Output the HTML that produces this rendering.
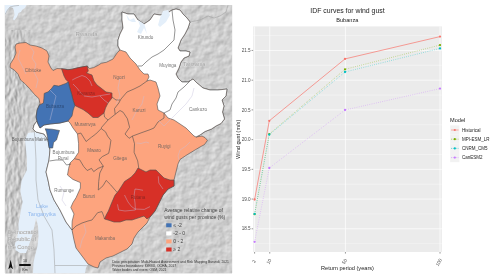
<!DOCTYPE html>
<html lang="en"><head><meta charset="utf-8"><title>IDF curves for wind gust - Bubanza</title>
<style>html,body{margin:0;padding:0;background:#fff;overflow:hidden}svg{display:block}</style></head>
<body>
<svg width="500" height="279" viewBox="0 0 500 279" style="display:block">
<defs><clipPath id="mc"><rect x="4.9" y="4.9" width="227.2" height="268.4"/></clipPath>
<filter id="hs" x="0" y="0" width="100%" height="100%" color-interpolation-filters="sRGB"><feTurbulence type="fractalNoise" baseFrequency="0.14" numOctaves="3" seed="7" result="n"/><feDiffuseLighting in="n" surfaceScale="0.45" diffuseConstant="1" lighting-color="#fff" result="l"><feDistantLight azimuth="225" elevation="45"/></feDiffuseLighting><feColorMatrix in="l" type="matrix" values="0.9 0 0 0 0.17  0.9 0 0 0 0.17  0.9 0 0 0 0.17  0 0 0 1 0"/></filter>
<filter id="hs2" x="0" y="0" width="100%" height="100%" color-interpolation-filters="sRGB"><feTurbulence type="fractalNoise" baseFrequency="0.3 0.13" numOctaves="3" seed="3" result="n"/><feDiffuseLighting in="n" surfaceScale="0.6" diffuseConstant="1" lighting-color="#fff" result="l"><feDistantLight azimuth="200" elevation="45"/></feDiffuseLighting><feColorMatrix in="l" type="matrix" values="0.9 0 0 0 0.145  0.9 0 0 0 0.145  0.9 0 0 0 0.145  0 0 0 1 0"/></filter>
<linearGradient id="wg" x1="0" x2="1" y1="0" y2="0"><stop offset="0" stop-color="#fff"/><stop offset="0.55" stop-color="#fff"/><stop offset="1" stop-color="#000"/></linearGradient><mask id="wm"><rect x="5" y="30" width="30" height="244" fill="url(#wg)"/></mask>
</defs>
<rect width="500" height="279" fill="#fff"/>
<g clip-path="url(#mc)">
<rect x="4" y="4" width="229" height="270" fill="#c9c9c9"/>
<rect x="4" y="4" width="229" height="270" fill="#c9c9c9" filter="url(#hs)"/>
<g mask="url(#wm)"><rect x="4" y="4" width="229" height="270" fill="#c4c4c4" filter="url(#hs2)"/></g>
<polygon points="28,133 36,132 44,134 48,140 50,150 49,160 47.5,170 48.4,181 51.6,191.5 56.3,202 62.4,213 68.8,224 72,230 74,240 76,248 82,256 88,264 86,268 85,273.5 33,273.5 33.5,262 35,256 37.5,246 38.5,236 38,226 36,218 34.5,226 32.5,234 30,242 27.5,249 26,253 20,253 15.5,250 15,244 17,238 18.5,230 18.5,224 20.4,213 22.6,202 20.4,191.5 21.5,181 26.9,170 27,160 26,150 25,140" fill="#e4effa"/>
<polygon points="4,4 27,4 25,8 22,10 21,12 18.5,13 17,17 14,20.5 13,19 14.5,15 14,11 13,8 10.5,7 8,10 5.5,14.5 4,14.5" fill="#e4effa"/>
<polyline points="34,128 35,140 36,160 36,180 38,200 44,216 52,230 54,250 55,273.5" fill="none" stroke="#9a9a9a" stroke-width="0.5"/>
<polyline points="55,265.5 80,265.5 100,266" fill="none" stroke="#9a9a9a" stroke-width="0.5"/>
<polyline points="190,22 200,20 208,16 214,18 220,16 226,12 228,5" fill="none" stroke="#9a9a9a" stroke-width="0.5"/>
<polyline points="5,14.5 7.5,10 10,7 14,6 19,5.4" fill="none" stroke="#9a9a9a" stroke-width="0.5"/>
<polygon points="16,44 20,43 26,42.5 30,45 36,46 42,48 47,51 49,56 48,62 51,68 53,70.5 57,68.5 61.5,68.7 68,69.7 72,69.2 78.7,67.6 87.3,66 89.4,68.5 93.7,67.6 98,65.4 101.2,63.3 106.6,62.2 113,59 117.4,52.5 120,50 118,46 118,40 120,34 123,28 122,20 122,12 128,14 134,14 138,20 144,24 150,20 154,14 160,15 166,14 172,10 176,9 180,10 183,14 187,18 190,22 188,28 185,34 181,40 178,48 180,51 186,51 190,52 189,56 184,58 181,62 179,68 176,74 178,78 182,82 188,82 193,79 197,83 203,88 210,90 218,90 227,89 226,96 222,100 224,106 222.5,112 224.5,119 221,123.5 216,126 211.5,129 205,131.5 200,135 196,137 202,136 205,137.6 207.4,140.4 204.5,144.6 200,147 195,150 190,153 186,155.5 180,159.5 178,164 177,168 175.5,174 174,180 174,186 168,189 163,195 159,203 155,211 150,217 147,223 142,228 138,232 134,238 132,244 127,249 121,252 113,256 106,258 100,262 98,268 94,267 88,264 82,256 76,248 74,240 72,230 66,222 60,210 54,200 50,190 48,180 46,172 49,160 50,150 48,140 44,134 36,132 33,129 34,125 37,121 36.1,117 37.1,110 39.4,105 40,103.5 38.8,98.5 34.5,94.5 29,88 24.7,83.5 20.5,80 17.8,73.7 13.9,69.8 10,67.5 10.3,64 14,58 16,53 15,47" fill="#fda47e" stroke="#4d4d4d" stroke-width="0.6" stroke-linejoin="round"/>
<polygon points="120,50 118,46 118,40 120,34 123,28 122,20 122,12 128,14 134,14 138,20 144,24 150,20 154,14 160,15 166,14 172,10 176,9 180,10 183,14 187,18 190,22 188,28 185,34 181,40 178,48 180,51 186,51 190,52 189,56 184,58 181,62 179,68 176,74 178,78 182,82 188,82 193,79 197,83 203,88 210,90 218,90 227,89 226,96 222,100 224,106 222.5,112 224.5,119 221,123.5 216,126 211.5,129 205,131.5 200,135 196,137 194,136 190,132 186,128 180,124 174,120 168,118 164,113 158,110 157,104 160,96 158,88 156,82 150,80 147,81 149,77 148,74 144,74 140,70 136,64 130,58 126,52" fill="#fff" stroke="#4d4d4d" stroke-width="0.6" stroke-linejoin="round"/>
<polygon points="40,128 44,125 50,124 60,123 68,121 70,123 73,128 77.5,134 78.6,143.7 78.6,152.3 74.3,158.7 70,163 68.6,168.6 67.5,175 72.9,179.4 80.4,182.6 80.4,188 76.1,197.6 73,202.5 70.8,207.5 74,214 72.2,221 72,225 72,230 66,222 60,210 54,200 50,190 48,180 46,172 49,160 50,150 48,140 44,134 36,132 33,129 34,125 37,121 38,124" fill="#fff" stroke="#4d4d4d" stroke-width="0.6" stroke-linejoin="round"/>
<polygon points="61.5,68.7 68,69.7 72,69.2 78.7,67.6 87.3,66 88.3,71 86.5,73 92,75 94,81 97,85 101,88 106,92 112,93 112,98 108,103 105.5,108 104,113 98,117.5 93,117.5 88,113 83,109.5 74.8,105.5 73,100 71.6,94.2 69.2,86.1 68.4,82.1 65.8,79.4 64,76" fill="#d73027" stroke="#4d4d4d" stroke-width="0.6" stroke-linejoin="round"/>
<polygon points="138,168 142,170 146,172 150,170 156,170 160,174 164,178 170,180 174,180 174,186 168,189 163,195 159,203 155,211 150,217 147,219 144,216 138,218 132,220 126,220 120,222 114,222 108,220 104.5,219 106.2,215 108.4,211 111.6,203 114.8,195.5 119.1,190.1 124.5,181.5 131,177.2 135,173" fill="#d73027" stroke="#4d4d4d" stroke-width="0.6" stroke-linejoin="round"/>
<polygon points="68.4,82.1 69.2,86.1 71.6,94.2 73,100 74.8,105.5 73.2,110 72,116 68,121 60,123 50,124 44,125 40,128 38,124 37,121 36.1,117 37.1,110 39.4,105 43.4,103 43.9,98.2 44.2,93.4 48.2,91.8 51.5,88.5 53.9,85.3 58.7,86.1 65.2,83.7" fill="#4373b4" stroke="#4d4d4d" stroke-width="0.6" stroke-linejoin="round"/>
<polygon points="45.2,128.8 52,129.2 59.5,130.5 58,135 56.5,140 53.5,142.5 52.7,148 49,148 48.2,142 47.5,137 46.5,132" fill="#4373b4" stroke="#4d4d4d" stroke-width="0.6" stroke-linejoin="round"/>
<polygon points="138,20 140,26 137,32 141,34 144,28 147,34 145,26 144,24" fill="#e4effa"/>
<polygon points="163,11 168,10 170,15 166,22 160,27 158,25 160,18" fill="#e4effa"/>
<polygon points="126,14 130,20 134,18 136,22 132,22 128,20" fill="#e4effa"/>
<polyline points="49.5,161 56,160 62.7,160 66.5,165 71,164" fill="none" stroke="#4d4d4d" stroke-width="0.6" stroke-linejoin="round"/>
<polyline points="172,10 173,20 175,30 174,40 169,45 164,50 158,54 152,57 146,62 142,66 138,66" fill="none" stroke="#4d4d4d" stroke-width="0.6" stroke-linejoin="round"/>
<polyline points="190,81 184,87 178,92 176,98 172,104 170,110 164,113" fill="none" stroke="#4d4d4d" stroke-width="0.6" stroke-linejoin="round"/>
<polyline points="147,81 140,86 134,89 127,92 121,99 118.8,103 114.5,108.6 115.2,114.3 120,110.5 123.1,112.2 127.4,118.7 129.6,127.3 125,134 129.1,138.3 132.4,136.1" fill="none" stroke="#4d4d4d" stroke-width="0.6" stroke-linejoin="round"/>
<polyline points="112,97 116,100 120,100" fill="none" stroke="#4d4d4d" stroke-width="0.6" stroke-linejoin="round"/>
<polyline points="104,113 104.5,117 108,120 101.6,127.3 101.2,128.6 105.5,131.8 107.6,136.1 110.9,140.4 109.8,148 108.7,153.3 102.3,156.6 99,159.8 103.3,166.2 99.8,173 98.7,181.5 98.3,190 103,185.8 106.2,180.4 110.5,184.7 117,192.3" fill="none" stroke="#4d4d4d" stroke-width="0.6" stroke-linejoin="round"/>
<polyline points="108,120 115.2,114.3" fill="none" stroke="#4d4d4d" stroke-width="0.6" stroke-linejoin="round"/>
<polyline points="77.5,134 80.8,133 86.1,141.5 91.5,137.2 95.8,134 101.2,128.6" fill="none" stroke="#4d4d4d" stroke-width="0.6" stroke-linejoin="round"/>
<polyline points="74.3,158.7 79.7,159.8 83.7,166.5 87.2,170.5 91.5,168.4 93.7,171.6 98,168.4 103.3,166.2" fill="none" stroke="#4d4d4d" stroke-width="0.6" stroke-linejoin="round"/>
<polyline points="132.4,136.1 141,132.9 150,129.7 154,128 158,122 164,118 164,113" fill="none" stroke="#4d4d4d" stroke-width="0.6" stroke-linejoin="round"/>
<polyline points="132.4,136.1 134.5,143.7 134.1,152.3 137.7,160.9 138.8,168.4" fill="none" stroke="#4d4d4d" stroke-width="0.6" stroke-linejoin="round"/>
<polyline points="72,230 76,226 82,223 88,221 92,220 97.6,212.7 102,211.6 104,217 104.5,219" fill="none" stroke="#4d4d4d" stroke-width="0.6" stroke-linejoin="round"/>
<polyline points="30,46 34,52 32,58 36,64 34,72 38,80 36,88" fill="none" stroke="#c3c0dc" stroke-width="0.5" stroke-linejoin="round" opacity="0.85"/>
<polyline points="20,50 18,58 22,66 26,74" fill="none" stroke="#c3c0dc" stroke-width="0.5" stroke-linejoin="round" opacity="0.85"/>
<polyline points="72.2,80 76,78 82,75.5 86,77 90,81 92,86" fill="none" stroke="#c3c0dc" stroke-width="0.5" stroke-linejoin="round" opacity="0.85"/>
<polyline points="73,84 77,88 80,92 84,96 92,97 98,96 104,95 110,94" fill="none" stroke="#c3c0dc" stroke-width="0.5" stroke-linejoin="round" opacity="0.85"/>
<polyline points="100,96 104,100 108,103" fill="none" stroke="#c3c0dc" stroke-width="0.5" stroke-linejoin="round" opacity="0.85"/>
<polyline points="50,90 56,96 54,104 52,112 50,120" fill="none" stroke="#c3c0dc" stroke-width="0.5" stroke-linejoin="round" opacity="0.85"/>
<polyline points="120,78 118,88 120,96 116,104" fill="none" stroke="#c3c0dc" stroke-width="0.5" stroke-linejoin="round" opacity="0.85"/>
<polyline points="144,96 142,104 136,112 132,120" fill="none" stroke="#c3c0dc" stroke-width="0.5" stroke-linejoin="round" opacity="0.85"/>
<polyline points="194,88 192,96 186,104 178,112 172,118 164,126 158,120" fill="none" stroke="#c3c0dc" stroke-width="0.5" stroke-linejoin="round" opacity="0.85"/>
<polyline points="135,189 134,196 135,203 135.4,210" fill="none" stroke="#c3c0dc" stroke-width="0.5" stroke-linejoin="round" opacity="0.85"/>
<polyline points="135,189 139,189.5 143,190.3" fill="none" stroke="#c3c0dc" stroke-width="0.5" stroke-linejoin="round" opacity="0.85"/>
<polyline points="124.5,195 128,202 131.5,206.5 135,209 144.3,209.4 150,206.6" fill="none" stroke="#c3c0dc" stroke-width="0.5" stroke-linejoin="round" opacity="0.85"/>
<polyline points="117.5,204.3 118.6,210 125,211 135.4,210" fill="none" stroke="#c3c0dc" stroke-width="0.5" stroke-linejoin="round" opacity="0.85"/>
<polyline points="158.3,176.3 158.8,183 163,189" fill="none" stroke="#c3c0dc" stroke-width="0.5" stroke-linejoin="round" opacity="0.85"/>
<polyline points="84,224 86,232 82,240 80,248" fill="none" stroke="#c3c0dc" stroke-width="0.5" stroke-linejoin="round" opacity="0.85"/>
<polyline points="60,186 64,192 62,200 66,206" fill="none" stroke="#c3c0dc" stroke-width="0.5" stroke-linejoin="round" opacity="0.85"/>
<polyline points="136.5,143 141,143.5 146,142 149,143" fill="none" stroke="#c3c0dc" stroke-width="0.5" stroke-linejoin="round" opacity="0.85"/>
<polyline points="190,142 186,146 180,150 178,156 179,160" fill="none" stroke="#c3c0dc" stroke-width="0.5" stroke-linejoin="round" opacity="0.85"/>
<g font-family="'Liberation Sans', 'DejaVu Sans', sans-serif" font-size="4.55" text-anchor="middle">
<text x="33" y="71.5" fill="#7a6a62">Cibitoke</text>
<text x="55" y="107.5" fill="#2c4a78">Bubanza</text>
<text x="86" y="94.5" fill="#8e2522">Kayanza</text>
<text x="119" y="78.5" fill="#7a6a62">Ngozi</text>
<text x="145.5" y="38.5" fill="#777">Kirundo</text>
<text x="167.8" y="66.6" fill="#777">Muyinga</text>
<text x="198" y="110.5" fill="#777">Cankuzo</text>
<text x="139" y="111.5" fill="#7a6a62">Karuzi</text>
<text x="85" y="125.5" fill="#7a6a62">Muramvya</text>
<text x="94" y="152" fill="#7a6a62">Mwaro</text>
<text x="120" y="159.5" fill="#7a6a62">Gitega</text>
<text x="164.2" y="148" fill="#7a6a62">Ruyigi</text>
<text x="138" y="198.5" fill="#8e2522">Rutana</text>
<text x="89" y="197.5" fill="#7a6a62">Bururi</text>
<text x="105" y="239.5" fill="#7a6a62">Makamba</text>
<text x="64" y="191.5" fill="#777">Rumonge</text>
<text x="63.6" y="153.6" fill="#777">Bujumbura</text>
<text x="63.2" y="159.8" fill="#777">Rural</text>
<text x="29.5" y="140.8" fill="#666">Bujumbura Mairie</text>
</g>
<g font-family="'Liberation Sans', sans-serif" font-size="5.6" fill="#a2a2a2" stroke="#e8e8e8" stroke-width="0.35" paint-order="stroke" stroke-linejoin="round">
<text x="86.6" y="35.7" text-anchor="middle" font-size="6">Rwanda</text>
<text x="194.2" y="66.4" text-anchor="middle">Tanzania</text>
<text x="8" y="234.1">Democratic</text><text x="8" y="241.3">Republic of</text><text x="8" y="248.9">the Congo</text>
</g>
<g font-family="'Liberation Sans', sans-serif" font-size="5.5" fill="#8fb8ee" text-anchor="middle"><text x="42" y="208.4">Lake</text><text x="42" y="215.8">Tanganyika</text></g>
<polygon points="10.6,259.8 13,269.3 10.6,267.3 8.4,269.3" fill="#111"/>
<rect x="19.2" y="264" width="11.5" height="2" fill="#111"/>
<g font-family="'Liberation Sans', sans-serif" font-size="3.7" fill="#333" text-anchor="middle"><text x="25.1" y="262">10</text><text x="25" y="270.9">Km</text></g>
<g font-family="'Liberation Sans', 'DejaVu Sans', sans-serif" fill="#444">
<text x="164.3" y="212.4" font-size="4.95">Average relative change of</text>
<text x="164.3" y="218.6" font-size="4.95">wind gusts per province (%)</text>
<rect x="166.2" y="223.30" width="5.4" height="4" fill="#4373b4"/>
<text x="173.2" y="227.10" font-size="5.1">≤ -2</text>
<rect x="166.2" y="231.37" width="5.4" height="4" fill="#fff"/>
<text x="173.2" y="235.17" font-size="5.1">-2 - 0</text>
<rect x="166.2" y="239.44" width="5.4" height="4" fill="#fda47e"/>
<text x="173.2" y="243.24" font-size="5.1"> 0 - 2</text>
<rect x="166.2" y="247.51" width="5.4" height="4" fill="#d73027"/>
<text x="173.2" y="251.31" font-size="5.1">≥ 2</text>
<text x="112.2" y="262.8" font-size="3.36" fill="#333">Data: precipitation: Multi-Hazard Assessment and Risk Mapping Burundi, 2021</text>
<text x="112.2" y="266.8" font-size="3.36" fill="#333">Province boundaries: IGEBU, OCHA, 2017</text>
<text x="112.2" y="270.7" font-size="3.36" fill="#333">Water bodies and rivers: OSM, 2021</text>
</g>
</g>
<rect x="253.2" y="26.4" width="188.7" height="225.6" fill="#ebebeb"/>
<line x1="253.2" x2="441.9" y1="243.66" y2="243.66" stroke="#f9f9f9" stroke-width="0.5"/>
<line x1="253.2" x2="441.9" y1="213.94" y2="213.94" stroke="#f9f9f9" stroke-width="0.5"/>
<line x1="253.2" x2="441.9" y1="184.21" y2="184.21" stroke="#f9f9f9" stroke-width="0.5"/>
<line x1="253.2" x2="441.9" y1="154.49" y2="154.49" stroke="#f9f9f9" stroke-width="0.5"/>
<line x1="253.2" x2="441.9" y1="124.76" y2="124.76" stroke="#f9f9f9" stroke-width="0.5"/>
<line x1="253.2" x2="441.9" y1="95.04" y2="95.04" stroke="#f9f9f9" stroke-width="0.5"/>
<line x1="253.2" x2="441.9" y1="65.31" y2="65.31" stroke="#f9f9f9" stroke-width="0.5"/>
<line x1="253.2" x2="441.9" y1="35.59" y2="35.59" stroke="#f9f9f9" stroke-width="0.5"/>
<line x1="253.2" x2="441.9" y1="228.80" y2="228.80" stroke="#fff" stroke-width="0.7"/>
<line x1="251.6" x2="253.2" y1="228.80" y2="228.80" stroke="#333" stroke-width="0.5"/>
<text x="250.6" y="230.40" font-family="'Liberation Sans', sans-serif" font-size="4.6" fill="#4d4d4d" text-anchor="end">18.5</text>
<line x1="253.2" x2="441.9" y1="199.07" y2="199.07" stroke="#fff" stroke-width="0.7"/>
<line x1="251.6" x2="253.2" y1="199.07" y2="199.07" stroke="#333" stroke-width="0.5"/>
<text x="250.6" y="200.67" font-family="'Liberation Sans', sans-serif" font-size="4.6" fill="#4d4d4d" text-anchor="end">19.0</text>
<line x1="253.2" x2="441.9" y1="169.35" y2="169.35" stroke="#fff" stroke-width="0.7"/>
<line x1="251.6" x2="253.2" y1="169.35" y2="169.35" stroke="#333" stroke-width="0.5"/>
<text x="250.6" y="170.95" font-family="'Liberation Sans', sans-serif" font-size="4.6" fill="#4d4d4d" text-anchor="end">19.5</text>
<line x1="253.2" x2="441.9" y1="139.62" y2="139.62" stroke="#fff" stroke-width="0.7"/>
<line x1="251.6" x2="253.2" y1="139.62" y2="139.62" stroke="#333" stroke-width="0.5"/>
<text x="250.6" y="141.22" font-family="'Liberation Sans', sans-serif" font-size="4.6" fill="#4d4d4d" text-anchor="end">20.0</text>
<line x1="253.2" x2="441.9" y1="109.90" y2="109.90" stroke="#fff" stroke-width="0.7"/>
<line x1="251.6" x2="253.2" y1="109.90" y2="109.90" stroke="#333" stroke-width="0.5"/>
<text x="250.6" y="111.50" font-family="'Liberation Sans', sans-serif" font-size="4.6" fill="#4d4d4d" text-anchor="end">20.5</text>
<line x1="253.2" x2="441.9" y1="80.18" y2="80.18" stroke="#fff" stroke-width="0.7"/>
<line x1="251.6" x2="253.2" y1="80.18" y2="80.18" stroke="#333" stroke-width="0.5"/>
<text x="250.6" y="81.78" font-family="'Liberation Sans', sans-serif" font-size="4.6" fill="#4d4d4d" text-anchor="end">21.0</text>
<line x1="253.2" x2="441.9" y1="50.45" y2="50.45" stroke="#fff" stroke-width="0.7"/>
<line x1="251.6" x2="253.2" y1="50.45" y2="50.45" stroke="#333" stroke-width="0.5"/>
<text x="250.6" y="52.05" font-family="'Liberation Sans', sans-serif" font-size="4.6" fill="#4d4d4d" text-anchor="end">21.5</text>
<line y1="26.4" y2="252.0" x1="254.60" x2="254.60" stroke="#fff" stroke-width="0.7"/>
<line y1="252.0" y2="253.6" x1="254.60" x2="254.60" stroke="#333" stroke-width="0.5"/>
<text transform="translate(254.10,261.5) rotate(-60)" font-family="'Liberation Sans', sans-serif" font-size="4.7" fill="#4d4d4d" text-anchor="middle" dominant-baseline="central">2</text>
<line y1="26.4" y2="252.0" x1="269.74" x2="269.74" stroke="#fff" stroke-width="0.7"/>
<line y1="252.0" y2="253.6" x1="269.74" x2="269.74" stroke="#333" stroke-width="0.5"/>
<text transform="translate(268.94,261.5) rotate(-60)" font-family="'Liberation Sans', sans-serif" font-size="4.7" fill="#4d4d4d" text-anchor="middle" dominant-baseline="central">10</text>
<line y1="26.4" y2="252.0" x1="345.42" x2="345.42" stroke="#fff" stroke-width="0.7"/>
<line y1="252.0" y2="253.6" x1="345.42" x2="345.42" stroke="#333" stroke-width="0.5"/>
<text transform="translate(344.62,261.5) rotate(-60)" font-family="'Liberation Sans', sans-serif" font-size="4.7" fill="#4d4d4d" text-anchor="middle" dominant-baseline="central">50</text>
<line y1="26.4" y2="252.0" x1="440.02" x2="440.02" stroke="#fff" stroke-width="0.7"/>
<line y1="252.0" y2="253.6" x1="440.02" x2="440.02" stroke="#333" stroke-width="0.5"/>
<text transform="translate(438.82,262.3) rotate(-60)" font-family="'Liberation Sans', sans-serif" font-size="4.7" fill="#4d4d4d" text-anchor="middle" dominant-baseline="central">100</text>
<polyline points="254.60,199.50 269.30,120.80 345.00,58.90 440.00,36.60" fill="none" stroke="#F8766D" stroke-width="0.7"/>
<polyline points="254.60,214.20 269.30,134.10 345.00,69.30 440.00,45.10" fill="none" stroke="#7CAE00" stroke-width="0.6" stroke-dasharray="0.6 1.6"/>
<polyline points="254.60,213.90 269.30,134.60 345.00,72.00 440.00,48.40" fill="none" stroke="#00BFC4" stroke-width="0.6" stroke-dasharray="0.6 1.6"/>
<polyline points="254.60,241.80 269.30,168.00 345.00,110.00 440.00,88.60" fill="none" stroke="#C77CFF" stroke-width="0.6" stroke-dasharray="0.6 1.6"/>
<circle cx="254.60" cy="199.50" r="1.15" fill="#F8766D"/>
<circle cx="269.30" cy="120.80" r="1.15" fill="#F8766D"/>
<circle cx="345.00" cy="58.90" r="1.15" fill="#F8766D"/>
<circle cx="440.00" cy="36.60" r="1.15" fill="#F8766D"/>
<circle cx="254.60" cy="214.20" r="1.15" fill="#7CAE00"/>
<circle cx="269.30" cy="134.10" r="1.15" fill="#7CAE00"/>
<circle cx="345.00" cy="69.30" r="1.15" fill="#7CAE00"/>
<circle cx="440.00" cy="45.10" r="1.15" fill="#7CAE00"/>
<circle cx="254.60" cy="213.90" r="1.15" fill="#00BFC4"/>
<circle cx="269.30" cy="134.60" r="1.15" fill="#00BFC4"/>
<circle cx="345.00" cy="72.00" r="1.15" fill="#00BFC4"/>
<circle cx="440.00" cy="48.40" r="1.15" fill="#00BFC4"/>
<circle cx="254.60" cy="241.80" r="1.15" fill="#C77CFF"/>
<circle cx="269.30" cy="168.00" r="1.15" fill="#C77CFF"/>
<circle cx="345.00" cy="110.00" r="1.15" fill="#C77CFF"/>
<circle cx="440.00" cy="88.60" r="1.15" fill="#C77CFF"/>
<g font-family="'Liberation Sans', sans-serif" fill="#222">
<text x="347.5" y="12.6" font-size="6.9" text-anchor="middle">IDF curves for wind gust</text>
<text x="347.3" y="22.1" font-size="5.6" text-anchor="middle">Bubanza</text>
<text x="347.5" y="269.5" font-size="5.6" text-anchor="middle">Return period (years)</text>
<text transform="translate(240,139.3) rotate(-90)" font-size="5.6" text-anchor="middle">Wind gust (m/s)</text>
<text x="450" y="121.6" font-size="5.6">Model</text>
<rect x="450.2" y="125.40" width="9.2" height="9.2" fill="#f2f2f2"/>
<line x1="451" x2="458.6" y1="130.00" y2="130.00" stroke="#F8766D" stroke-width="0.6"/>
<circle cx="454.8" cy="130.00" r="1.1" fill="#F8766D"/>
<text x="462" y="131.60" font-size="4.5">Historical</text>
<rect x="450.2" y="134.60" width="9.2" height="9.2" fill="#f2f2f2"/>
<line x1="451" x2="458.6" y1="139.20" y2="139.20" stroke="#7CAE00" stroke-width="0.6" stroke-dasharray="0.9 0.9"/>
<circle cx="454.8" cy="139.20" r="1.1" fill="#7CAE00"/>
<text x="462" y="140.80" font-size="4.5">MPI-ESM_LR</text>
<rect x="450.2" y="143.80" width="9.2" height="9.2" fill="#f2f2f2"/>
<line x1="451" x2="458.6" y1="148.40" y2="148.40" stroke="#00BFC4" stroke-width="0.6" stroke-dasharray="0.9 0.9"/>
<circle cx="454.8" cy="148.40" r="1.1" fill="#00BFC4"/>
<text x="462" y="150.00" font-size="4.5">CNRM_CM5</text>
<rect x="450.2" y="153.00" width="9.2" height="9.2" fill="#f2f2f2"/>
<line x1="451" x2="458.6" y1="157.60" y2="157.60" stroke="#C77CFF" stroke-width="0.6" stroke-dasharray="0.9 0.9"/>
<circle cx="454.8" cy="157.60" r="1.1" fill="#C77CFF"/>
<text x="462" y="159.20" font-size="4.5">CanESM2</text>
</g>
</svg>
</body></html>
